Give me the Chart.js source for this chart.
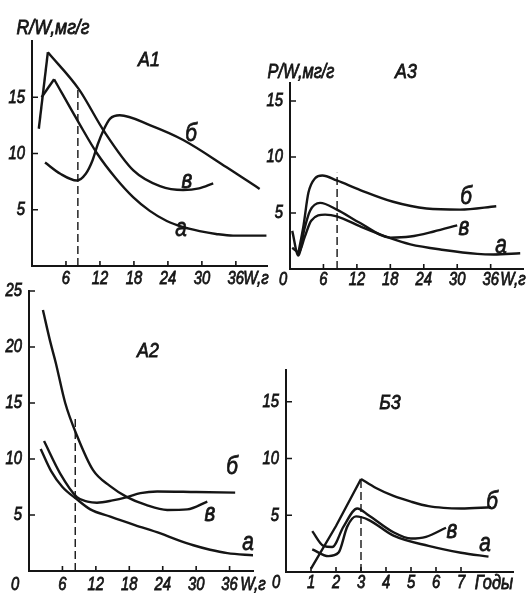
<!DOCTYPE html>
<html>
<head>
<meta charset="utf-8">
<script src="https://cdn.jsdelivr.net/npm/chart.js@4.4.0/dist/chart.umd.min.js"></script>
<style>
  html, body { margin: 0; padding: 0; background: #fff; }
  #wrap { position: relative; width: 528px; height: 598px; overflow: hidden; }
  #wrap canvas { position: absolute; }
</style>
</head>
<body>
<div id="wrap">
  <canvas id="a1"></canvas>
  <canvas id="a3"></canvas>
  <canvas id="a2"></canvas>
  <canvas id="b3"></canvas>
</div>
<script>
const FONT = '"Liberation Sans", "DejaVu Sans", sans-serif';
const INK = '#151515';

// tick values
const wTicks = [6, 12, 18, 24, 30, 36];
const yearTicks = [1, 2, 3, 4, 5, 6, 7];
const a1Ticks = [5, 10, 15];
const a2Ticks = [5, 10, 15, 20, 25];
const a3Ticks = [5, 10, 15];
const b3Ticks = [5, 10, 15];

// А1 — R/W, мг/г against W, г  (a = а, b = б, v = в)
const a1A = [[1.7, 15.0], [3.9, 16.6], [8.3, 12.7], [11.5, 10.0], [14.8, 7.8], [17.9, 6.1], [20.8, 4.9],
             [23.8, 4.0], [26.7, 3.45], [29.6, 3.1], [32.5, 2.85], [35.5, 2.7], [41.4, 2.7]];
const a1B = [[2.3, 9.2], [5.0, 8.2], [7.9, 7.6], [9.5, 8.2], [10.7, 9.4], [11.6, 10.8], [12.6, 12.05],
             [13.8, 13.1], [15.5, 13.4], [20.9, 12.5], [26.7, 11.2], [34.3, 8.8], [40.2, 6.85]];
const a1V = [[1.2, 12.2], [2.8, 19.0], [8.3, 15.7], [12.7, 12.0], [17.9, 8.5], [22.6, 7.1],
             [26.7, 6.75], [29.5, 6.9], [32.0, 7.35]];
const a1Mark = [[8.1, 0], [8.1, 16.0]];

// А2
const a2A = [[2.1, 10.9], [4.0, 8.9], [6.0, 7.5], [8.6, 6.4], [11.0, 5.5], [14.6, 4.85], [19.0, 4.1],
             [23.6, 3.35], [26.5, 2.8], [29.5, 2.3], [32.5, 1.9], [35.6, 1.6], [40.3, 1.4]];
const a2B = [[2.7, 11.6], [5.6, 8.7], [8.6, 6.6], [10.5, 6.2], [12.2, 6.1], [15.0, 6.3], [17.6, 6.6],
             [20.0, 6.95], [23.0, 7.1], [30.0, 7.05], [37.0, 7.0]];
const a2V = [[2.5, 23.3], [3.8, 20.5], [4.8, 18.6], [6.5, 15.0], [8.6, 12.1], [11.5, 9.0], [14.5, 7.6],
             [17.6, 6.6], [21.0, 5.9], [24.8, 5.45], [28.4, 5.5], [32.0, 6.2]];
const a2Mark = [[8.3, 0], [8.3, 13.7]];

// А3 — P/W, мг/г
const a3A = [[0.4, 1.9], [1.6, 1.5], [2.6, 2.8], [3.8, 4.3], [6.3, 4.85], [8.4, 4.7], [12.6, 3.8],
             [18.0, 2.75], [21.6, 2.2], [27.6, 1.7], [33.6, 1.35], [36.5, 1.3], [41.3, 1.4]];
const a3B = [[1.4, 1.2], [2.4, 3.8], [3.3, 6.8], [4.5, 8.1], [5.8, 8.35], [8.4, 7.9], [12.6, 7.05],
             [18.5, 6.0], [24.5, 5.4], [30.5, 5.3], [37.0, 5.6]];
const a3V = [[0.4, 3.4], [1.5, 1.2], [2.6, 3.6], [3.6, 5.2], [5.4, 5.9], [8.4, 5.3], [12.6, 4.1],
             [18.0, 2.8], [21.6, 2.9], [25.8, 3.35], [30.0, 3.9]];
const a3Mark = [[8.45, 0], [8.45, 8.6]];

// Б3 — against age, years
const b3A = [[1.05, 2.0], [1.7, 1.4], [2.1, 1.7], [2.45, 4.0], [2.8, 4.9], [3.3, 4.6], [4.3, 3.2],
             [5.7, 2.3], [7.0, 1.7], [8.1, 1.35]];
const b3B = [[1.0, 0.3], [2.0, 4.05], [3.0, 8.2], [3.6, 7.4], [4.3, 6.7], [5.0, 6.2], [5.7, 5.8],
             [6.3, 5.65], [7.0, 5.6], [8.2, 5.7]];
const b3V = [[1.05, 3.6], [1.5, 2.3], [1.85, 2.2], [2.3, 4.0], [2.85, 5.6], [3.3, 5.0], [4.3, 3.5],
             [5.0, 2.95], [5.6, 3.1], [6.4, 3.9]];
const b3Mark = [[3.0, 0], [3.0, 8.2]];

function line(points, extra) {
  return Object.assign({
    data: points.map(p => ({ x: p[0], y: p[1] })),
    borderColor: INK,
    borderWidth: 2.4,
    pointRadius: 0,
    fill: false,
    cubicInterpolationMode: 'monotone'
  }, extra);
}

// curve with a sharp corner at point k
function peaked(points, k) {
  return [
    line(points.slice(0, k + 1), { cubicInterpolationMode: 'default', tension: 0 }),
    line(points.slice(k))
  ];
}

function dashed(points) {
  return line(points, { borderWidth: 1.4, borderDash: [8, 4], cubicInterpolationMode: 'default', tension: 0 });
}

// condensed, slightly heavy italic lettering centred on (x, y)
function say(ctx, text, x, y, size, squeeze, align) {
  ctx.save();
  ctx.font = 'italic ' + size + 'px ' + FONT;
  ctx.fillStyle = INK;
  ctx.strokeStyle = INK;
  ctx.lineWidth = 0.8;
  ctx.textAlign = align || 'center';
  ctx.textBaseline = 'middle';
  ctx.translate(x, y);
  ctx.scale(squeeze || 0.78, 1);
  ctx.fillText(text, 0, 0);
  ctx.strokeText(text, 0, 0);
  ctx.restore();
}

// inward tick marks plus the tick numbers of both axes
const axisMarks = {
  id: 'axisMarks',
  afterDraw(chart, args, opts) {
    const ctx = chart.ctx, area = chart.chartArea;
    const sx = chart.scales.x, sy = chart.scales.y;
    ctx.save();
    ctx.strokeStyle = INK;
    ctx.lineWidth = 1.6;
    ctx.beginPath();
    sx.ticks.forEach(t => {
      const px = sx.getPixelForValue(t.value);
      ctx.moveTo(px, area.bottom);
      ctx.lineTo(px, area.bottom - 5);
    });
    sy.ticks.forEach(t => {
      const py = sy.getPixelForValue(t.value);
      ctx.moveTo(area.left, py);
      ctx.lineTo(area.left + 6, py);
    });
    ctx.stroke();
    ctx.restore();
    sx.ticks.forEach(t => say(ctx, String(t.value), sx.getPixelForValue(t.value), area.bottom + opts.xGap, 19));
    sy.ticks.forEach(t => say(ctx, String(t.value), area.left - opts.yGap, sy.getPixelForValue(t.value), 19, 0.78, 'right'));
  }
};

function textPlugin(box, texts) {
  return {
    id: 'panelText',
    afterDraw(chart) {
      texts.forEach(t => say(chart.ctx, t.text, t.x - box.x, t.y - box.y, t.size, t.sq));
    }
  };
}

function axis(min, max, ticks, fit) {
  return {
    type: 'linear',
    min: min,
    max: max,
    afterBuildTicks: s => { s.ticks = ticks.map(v => ({ value: v })); },
    afterFit: fit,
    grid: { display: false },
    border: { display: true, color: INK, width: 2 },
    ticks: { display: false }
  };
}

function makePanel(p) {
  const cv = document.getElementById(p.id);
  cv.width = p.box.w;
  cv.height = p.box.h;
  cv.style.left = p.box.x + 'px';
  cv.style.top = p.box.y + 'px';
  new Chart(cv, {
    type: 'line',
    data: { datasets: p.datasets },
    options: {
      responsive: false,
      animation: false,
      events: [],
      layout: {
        padding: { left: 0, top: p.area.top - p.box.y, right: p.box.x + p.box.w - p.area.right, bottom: 0 }
      },
      plugins: {
        legend: { display: false },
        tooltip: { enabled: false },
        axisMarks: { xGap: p.xGap, yGap: 7 }
      },
      scales: {
        x: axis(p.x[0], p.x[1], p.xTicks, s => { s.height = p.box.y + p.box.h - p.area.bottom; }),
        y: axis(p.y[0], p.y[1], p.yTicks, s => { s.width = p.area.left - p.box.x; })
      }
    },
    plugins: [axisMarks, textPlugin(p.box, p.texts)]
  });
}

makePanel({
  id: 'a1',
  box: { x: 0, y: 0, w: 275, h: 300 },
  area: { left: 32, top: 41, right: 267, bottom: 266 },
  x: [0, 41.5], y: [0, 20], xTicks: wTicks, yTicks: a1Ticks, xGap: 13,
  datasets: [...peaked(a1A, 1), line(a1B), ...peaked(a1V, 1), dashed(a1Mark)],
  texts: [
    { text: 'R/W,мг/г', x: 53, y: 28, size: 20, sq: 0.88 },
    { text: 'А1', x: 149, y: 60, size: 21, sq: 0.85 },
    { text: 'W,г', x: 256, y: 279, size: 19, sq: 0.8 },
    { text: 'б', x: 191, y: 134, size: 26, sq: 0.8 },
    { text: 'в', x: 187, y: 181, size: 26, sq: 0.8 },
    { text: 'а', x: 181, y: 229, size: 26, sq: 0.8 }
  ]
});

makePanel({
  id: 'a3',
  box: { x: 262, y: 40, w: 266, h: 262 },
  area: { left: 290, top: 83, right: 523, bottom: 269 },
  x: [0, 41.8], y: [0, 16.6], xTicks: wTicks, yTicks: a3Ticks, xGap: 11,
  datasets: [line(a3A), line(a3B), line(a3V), dashed(a3Mark)],
  texts: [
    { text: 'P/W,мг/г', x: 301, y: 72, size: 20, sq: 0.82 },
    { text: 'А3', x: 406, y: 72, size: 21, sq: 0.85 },
    { text: '0', x: 283, y: 280, size: 19 },
    { text: 'W,г', x: 513, y: 280, size: 19, sq: 0.8 },
    { text: 'б', x: 466, y: 197, size: 26, sq: 0.8 },
    { text: 'в', x: 464, y: 228, size: 26, sq: 0.8 },
    { text: 'а', x: 501, y: 246, size: 26, sq: 0.8 }
  ]
});

makePanel({
  id: 'a2',
  box: { x: 0, y: 270, w: 275, h: 328 },
  area: { left: 29, top: 291, right: 253, bottom: 571 },
  x: [0, 40.2], y: [0, 25], xTicks: wTicks, yTicks: a2Ticks, xGap: 14,
  datasets: [line(a2A), line(a2B), line(a2V), dashed(a2Mark)],
  texts: [
    { text: 'А2', x: 148, y: 351, size: 21, sq: 0.85 },
    { text: '0', x: 15, y: 585, size: 19 },
    { text: 'W,г', x: 253, y: 585, size: 19, sq: 0.8 },
    { text: 'б', x: 232, y: 467, size: 26, sq: 0.8 },
    { text: 'в', x: 210, y: 514, size: 26, sq: 0.8 },
    { text: 'а', x: 248, y: 543, size: 26, sq: 0.8 }
  ]
});

makePanel({
  id: 'b3',
  box: { x: 262, y: 360, w: 266, h: 238 },
  area: { left: 286, top: 370, right: 513, bottom: 572 },
  x: [0, 9.08], y: [0, 17.8], xTicks: yearTicks, yTicks: b3Ticks, xGap: 11,
  datasets: [line(b3A), ...peaked(b3B, 2), line(b3V), dashed(b3Mark)],
  texts: [
    { text: 'Б3', x: 390, y: 403, size: 21, sq: 0.85 },
    { text: '0', x: 276, y: 583, size: 19 },
    { text: 'Годы', x: 494, y: 583, size: 20, sq: 0.82 },
    { text: 'б', x: 492, y: 502, size: 26, sq: 0.8 },
    { text: 'в', x: 452, y: 531, size: 26, sq: 0.8 },
    { text: 'а', x: 485, y: 544, size: 26, sq: 0.8 }
  ]
});
</script>
</body>
</html>
